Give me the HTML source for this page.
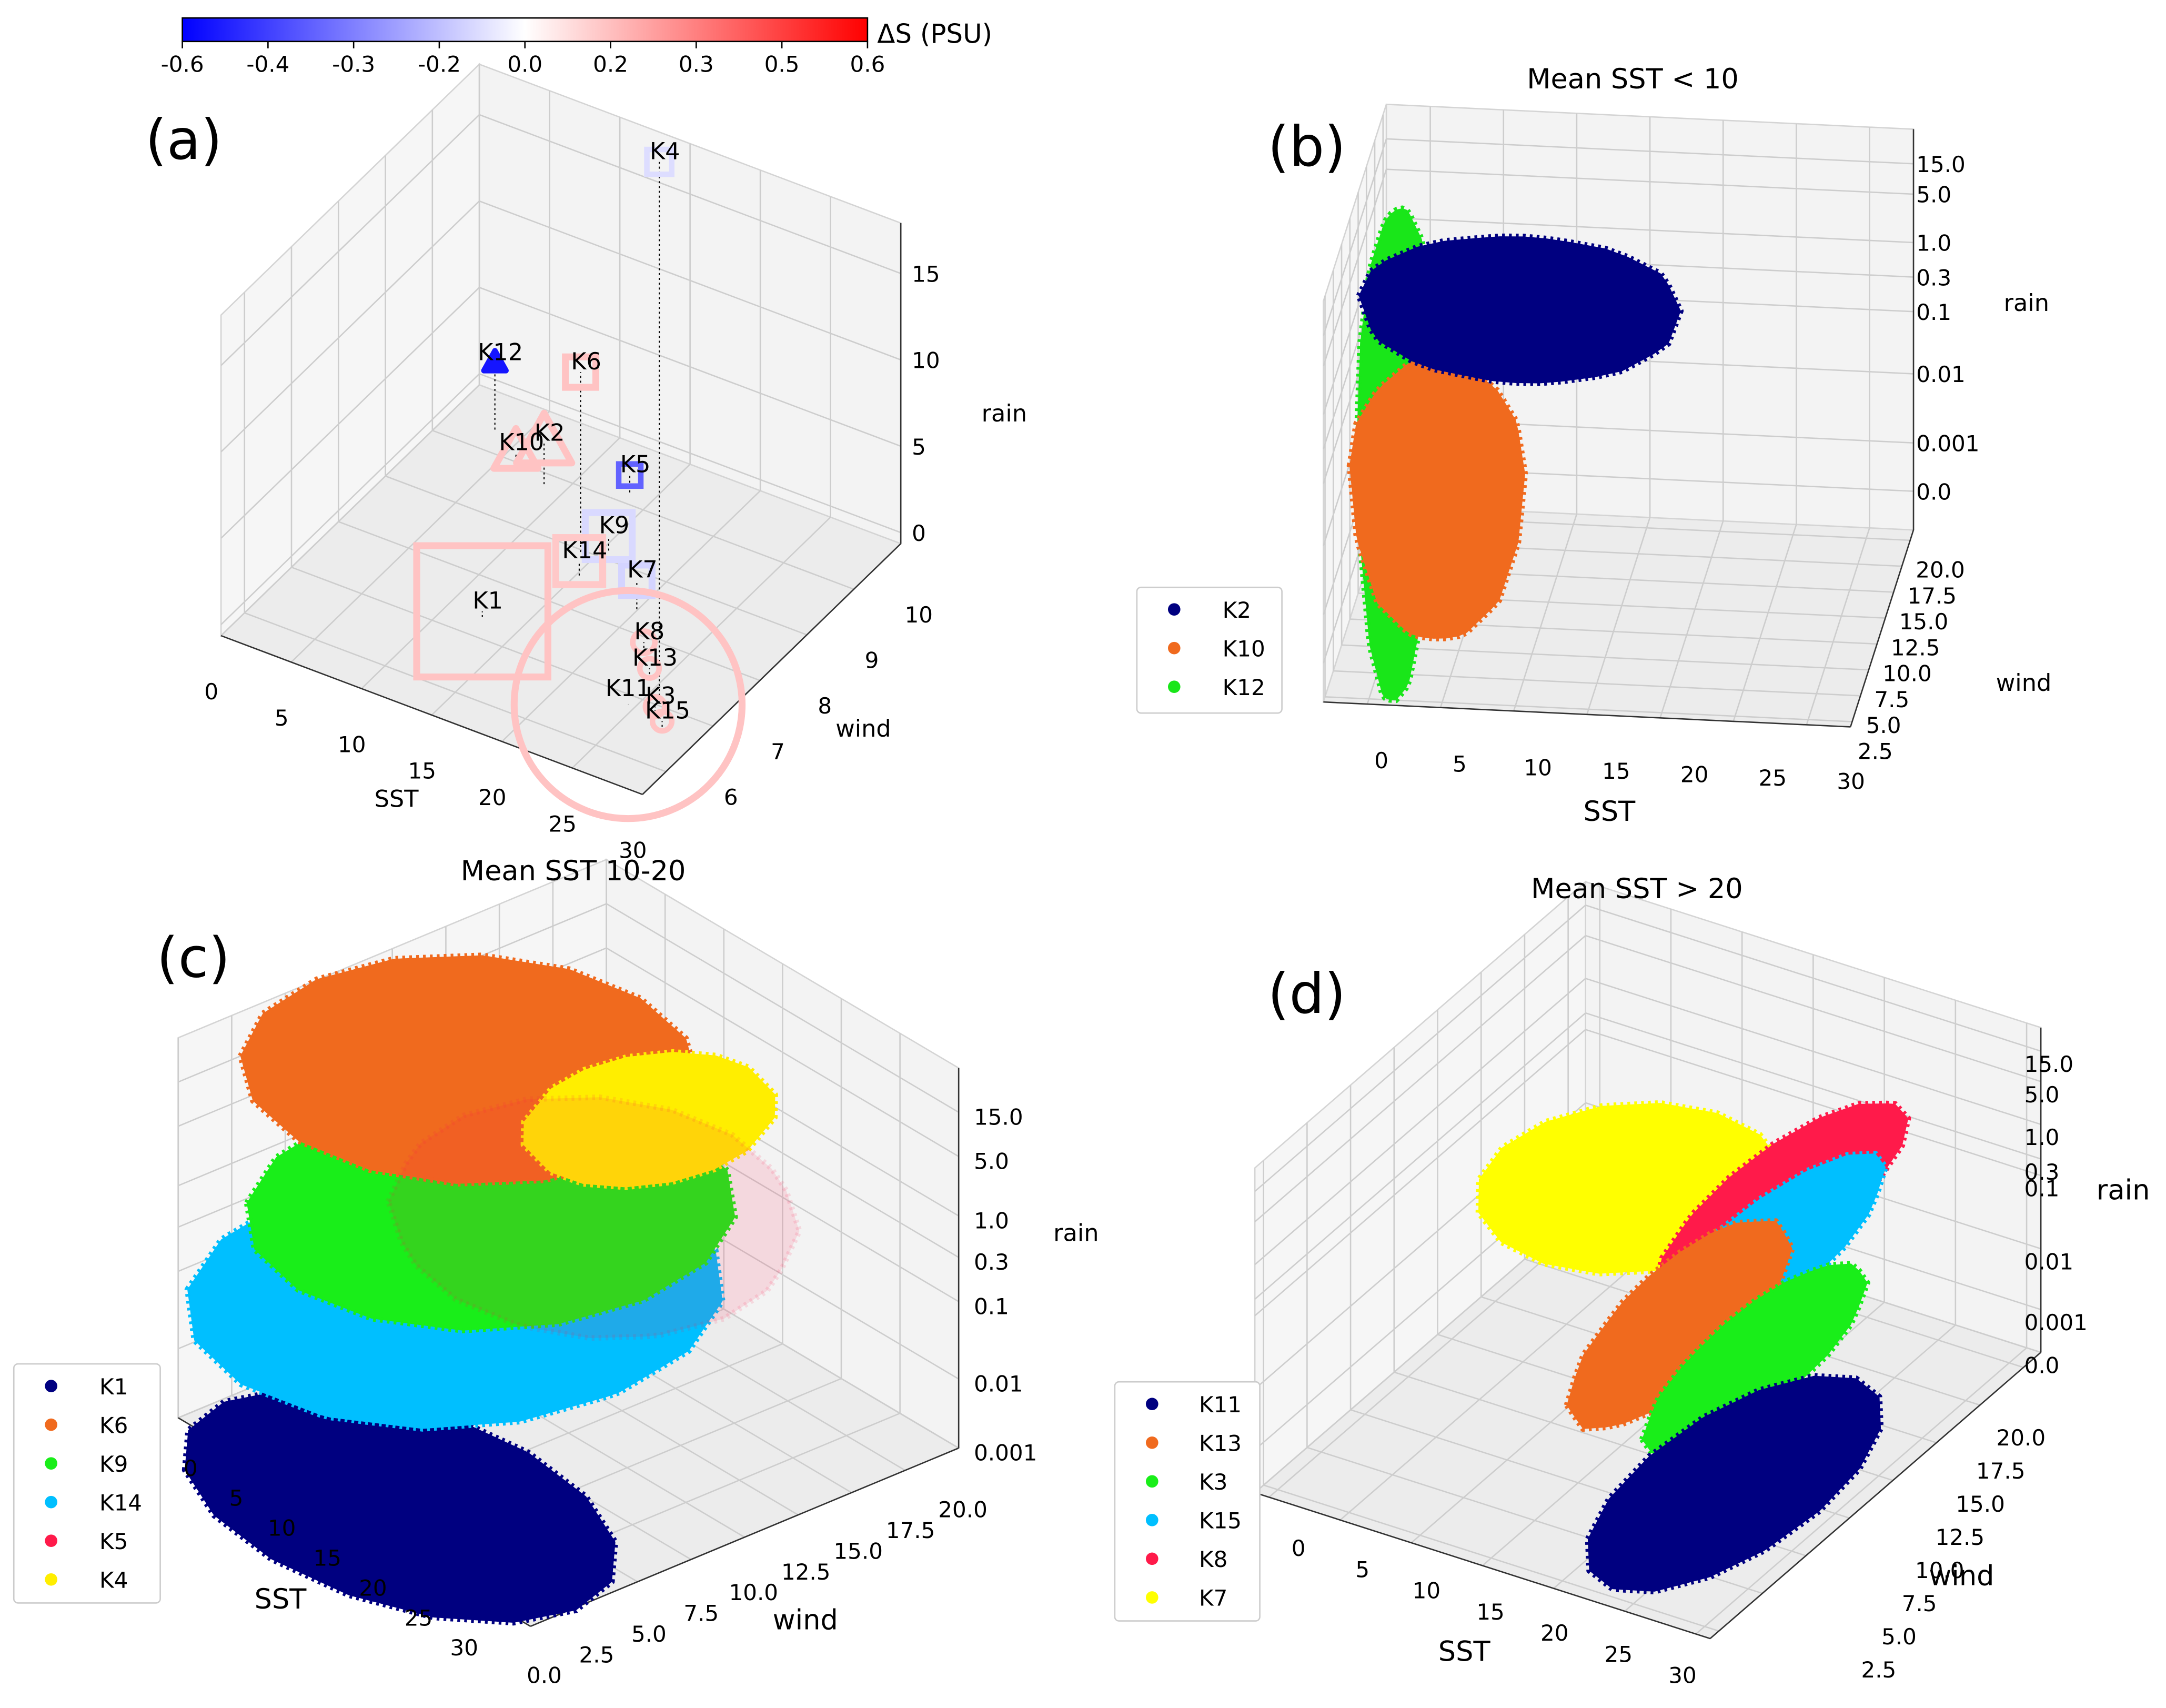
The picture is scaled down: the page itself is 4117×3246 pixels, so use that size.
<!DOCTYPE html>
<html><head><meta charset="utf-8"><style>
html,body{margin:0;padding:0;background:#fff;}
svg{display:block;font-family:"DejaVu Sans","Liberation Sans",sans-serif;}
</style></head><body>
<svg id="fig" width="4117" height="3246" viewBox="0 0 1568 1236" preserveAspectRatio="none" xmlns="http://www.w3.org/2000/svg">
<defs><linearGradient id="bwr" x1="0" x2="1" y1="0" y2="0"><stop offset="0" stop-color="#0000ff"/><stop offset="0.5" stop-color="#ffffff"/><stop offset="1" stop-color="#ff0000"/></linearGradient></defs>
<rect x="0" y="0" width="1568" height="1236" fill="#fff"/>
</svg>
<script>
// ---------- data ----------
const cbTickLabels = ['-0.6','-0.4','-0.3','-0.2','0.0','0.2','0.3','0.5','0.6'];
const aNames = ['K1','K2','K3','K4','K5','K6','K7','K8','K9','K10','K11','K12','K13','K14','K15'];
const aSst   = [12.9,9.5,26.7,26.1,14.4,14.8,20.6,22.9,16.2,6.9,24.9,4.2,24.5,15.9,27.8];
const aWind  = [7.4,10.0,6.9,7.2,10.4,9.1,8.5,7.9,9.3,10.2,6.86,10.6,7.5,8.7,6.7];
const aRain  = [0.2,1.4,0.2,18.4,0.6,6.2,1.0,0.2,0.5,0.3,0.0,2.3,0.2,0.5,0.2];
const aDS    = [0.14,0.14,0.14,-0.08,-0.37,0.14,-0.1,0.14,-0.09,0.14,0.14,-0.55,0.14,0.13,0.14];
const aMarker= ['s','^','o','s','s','s','s','o','s','^','o','^','o','s','o'];
const aSize  = [95,40,14,18,16,22,22,16,34,32,165,16,14,34,14];
const sstTicks = [0,5,10,15,20,25,30];
const aWindTicks = [6,7,8,9,10];
const aRainTicks = [0,5,10,15];
const windTicks = [2.5,5.0,7.5,10.0,12.5,15.0,17.5,20.0];
const cWindTicks = [0.0,2.5,5.0,7.5,10.0,12.5,15.0,17.5,20.0];
const bRainLabels = ['0.0','0.001','0.01','0.1','0.3','1.0','5.0','15.0'];
const cRainLabels = ['0.001','0.01','0.1','0.3','1.0','5.0','15.0'];
const dRainLabels = ['0.0','0.001','0.01','0.1','0.3','1.0','5.0','15.0'];
// panel b clusters
const bNames=['K12','K10','K2'];
const bSst=[0.6,4.1,8.6], bSstSp=[2.4,6,11];
const bWind=[8,5,10], bWindSp=[5,3,3];
const bRain=[3.5,2.8,5.75], bRainSp=[5.5,2.8,1.8];
const bColors=['#19e619','#f06a1e','#000080'];
const bLegend=['K2','K10','K12'], bLegendCol=['#000080','#f06a1e','#19e619'];
// panel c clusters
const cNames=['K1','K14','K9','K6','K4','K5'];
const cSst=[13.5,11.1,8.8,6.2,13.5,13.7], cSstSp=[15,14,13,13,6,12];
const cWind=[2.96,6.84,9.78,10.2,14.6,11.9], cWindSp=[6,10,9,8,5,7];
const cRain=[-0.3,1.9,2.8,5.2,4.5,3.0], cRainSp=[0.2,0.4,0.3,0.4,0.5,1.5];
const cColors=['#000080','#00bfff','#19ee19','#f06a1e','#ffee00','#ff1a4a'];
const cOpac=[1,1,1,1,1,0.12];
const cLegend=['K1','K6','K9','K14','K5','K4'], cLegendCol=['#000080','#f06a1e','#19ee19','#00bfff','#ff1a4a','#ffee00'];
// panel d clusters
const dNames=['K7','K8','K15','K13','K3','K11'];
const dSst=[11.7,21.5,21.2,17.1,21.9,22.3], dSstSp=[9,4,3.5,3,3,6];
const dWind=[13.2,13.9,13.0,11.6,12.0,10.5], dWindSp=[5,6.5,6.5,6,6,7];
const dRain=[4.0,4.6,3.0,2.0,1.7,-0.3], dRainSp=[0.5,0.6,0.6,0.8,0.6,0.4];
const dColors=['#ffff00','#ff1a4a','#00bfff','#f06a1e','#19ee19','#000080'];
const dLegend=['K11','K13','K3','K15','K8','K7'], dLegendCol=['#000080','#f06a1e','#19ee19','#00bfff','#ff1a4a','#ffff00'];

// ---------- helpers ----------
const NS='http://www.w3.org/2000/svg';
const svg=document.getElementById('fig');
function el(tag,attrs,parent){const e=document.createElementNS(NS,tag);for(const k in attrs)e.setAttribute(k,attrs[k]);(parent||svg).appendChild(e);return e;}
function txt(str,x,y,size,anchor,parent){const t=el('text',{x:x,y:y,'font-size':size,'text-anchor':anchor||'middle',fill:'#000'},parent);t.textContent=str;return t;}
function mkProj(O,Vs,Vw){return (s,w,h)=>[O[0]+s*Vs[0]+w*Vw[0],O[1]+s*Vs[1]+w*Vw[1]-h];}
function hAt(hs,x){const n=hs.length-1;if(x<=0)return hs[0]+x*(hs[1]-hs[0]);if(x>=n)return hs[n]+(x-n)*(hs[n]-hs[n-1]);const i=Math.floor(x);return hs[i]+(x-i)*(hs[i+1]-hs[i]);}
function lerp(a,b,t){return [a[0]+(b[0]-a[0])*t,a[1]+(b[1]-a[1])*t];}
function pts(a){return a.map(p=>p[0].toFixed(1)+','+p[1].toFixed(1)).join(' ');}
function hull(P){P=P.slice().sort((a,b)=>a[0]-b[0]||a[1]-b[1]);const cr=(o,a,b)=>(a[0]-o[0])*(b[1]-o[1])-(a[1]-o[1])*(b[0]-o[0]);const lo=[],up=[];for(const p of P){while(lo.length>=2&&cr(lo[lo.length-2],lo[lo.length-1],p)<=0)lo.pop();lo.push(p);}for(let i=P.length-1;i>=0;i--){const p=P[i];while(up.length>=2&&cr(up[up.length-2],up[up.length-1],p)<=0)up.pop();up.push(p);}up.pop();lo.pop();return lo.concat(up);}
function line(g,a,b,col,w){return el('line',{x1:a[0],y1:a[1],x2:b[0],y2:b[1],stroke:col,'stroke-width':w},g);}

function drawBox(g,P,s0,s1,w0,w1,H,sT,wT,hT){
  const floor=el('polygon',{points:pts([P(s0,w0,0),P(s1,w0,0),P(s1,w1,0),P(s0,w1,0)]),fill:'#ececec',stroke:'#d4d4d4','stroke-width':1},g);
  
  
  const back=el('polygon',{points:pts([P(s0,w1,0),P(s1,w1,0),P(s1,w1,H),P(s0,w1,H)]),fill:'#f3f3f3',stroke:'#d4d4d4','stroke-width':1},g);
  
  
  const left=el('polygon',{points:pts([P(s0,w0,0),P(s0,w1,0),P(s0,w1,H),P(s0,w0,H)]),fill:'#f6f6f6',stroke:'#d4d4d4','stroke-width':1},g);
  
  
  const gc='#cdcdcd';
  sT.forEach(s=>{line(g,P(s,w0,0),P(s,w1,0),gc,1);line(g,P(s,w1,0),P(s,w1,H),gc,1);});
  wT.forEach(w=>{line(g,P(s0,w,0),P(s1,w,0),gc,1);line(g,P(s0,w,0),P(s0,w,H),gc,1);});
  hT.forEach(h=>{line(g,P(s0,w1,h),P(s1,w1,h),gc,1);line(g,P(s0,w0,h),P(s0,w1,h),gc,1);});
  line(g,P(s0,w0,0),P(s1,w0,0),'#333',1);
  line(g,P(s1,w0,0),P(s1,w1,0),'#333',1);
  line(g,P(s1,w1,0),P(s1,w1,H),'#333',1);
}
function drawCloud(g,P,hs,s,ss,w,ws,r,rs,col,op,name){
  const sp=[];
  for(let i=0;i<16;i++){const th=i/16*2*Math.PI;for(let j=0;j<=8;j++){const ph=j/8*Math.PI;
    const S=s+ss*Math.sin(ph)*Math.cos(th),W=w+ws*Math.sin(ph)*Math.sin(th),R=r+rs*Math.cos(ph);
    sp.push(P(S,W,hAt(hs,R)));}}
  const poly=el('polygon',{points:pts(hull(sp)),fill:col,'fill-opacity':op,stroke:col,'stroke-opacity':op,'stroke-width':4,'stroke-dasharray':'2 3','stroke-linejoin':'round'},g);
  
  
}
function legend(x,y,w,h,labels,cols,step,tx,name){
  const g=el('g',{});
  
  
  el('rect',{x:x,y:y,width:w,height:h,rx:3,fill:'#fff',stroke:'#ccc','stroke-width':1},g);
  labels.forEach((lb,i)=>{
    const c=el('circle',{cx:x+27,cy:y+16+i*step,r:4.5,fill:cols[i]},g);
    
    
    const t=txt(lb,tx,y+22+i*step,16,'start',g);
    
    
  });
}
function dsColor(v){const t=Math.max(-1,Math.min(1,v/0.6));if(t<0){const k=Math.round(255*(1+t));return 'rgb('+k+','+k+',255)';}const k=Math.round(255*(1-t));return 'rgb(255,'+k+','+k+')';}

// ---------- colorbar ----------
const cb=el('g',{});


el('rect',{x:132,y:13,width:496,height:17,fill:'url(#bwr)',stroke:'#000','stroke-width':1},cb);
cbTickLabels.forEach((lb,i)=>{const x=132+i*496/(cbTickLabels.length-1);line(cb,[x,30],[x,35],'#000',1);
  const t=txt(lb,x,52,16,'middle',cb);
  
  });
const cbt=txt('ΔS (PSU)',635,31,19,'start',cb);



// ---------- panel a ----------
(function(){
  const g=el('g',{});
  
  
  const P=(s,w,h)=>[160+s*10.17+(w-5.5)*30.5,458+s*3.83-(w-5.5)*32-h];
  const PB=(s,w,h)=>[160+s*10.17+(w-5.5)*34,460+s*3.83-(w-5.5)*33-h];
  const rainH=v=>8+12.5*v;
  drawBox(g,PB,0,30,5.5,11,232,sstTicks,aWindTicks,aRainTicks.map(rainH));
  sstTicks.forEach(s=>{const p=PB(s,5.5,0);const t=txt(String(s),p[0]-7,p[1]+46,16,'middle',g);
    
    });
  aWindTicks.forEach(w=>{const p=PB(30,w,0);const t=txt(String(w),p[0]+47,p[1]+24,16,'middle',g);
    
    });
  aRainTicks.forEach(v=>{const p=PB(30,11,rainH(v));const t=txt(String(v),p[0]+8,p[1]+6,16,'start',g);
    
    });
  const rs=21;
  aNames.forEach((nm,i)=>{
    const base=P(aSst[i],aWind[i],0), top=P(aSst[i],aWind[i],aRain[i]*rs);
    const dl=line(g,base,top,'#000',0.8);dl.setAttribute('stroke-dasharray','1.5 2');
    
    
  });
  aNames.forEach((nm,i)=>{
    const p=P(aSst[i],aWind[i],aRain[i]*rs), s=aSize[i], col=dsColor(aDS[i]);
    const sw=s<20?4:5;let m;
    if(aMarker[i]==='s') m=el('rect',{x:p[0]-s/2,y:p[1]-s/2,width:s,height:s,fill:'none',stroke:col,'stroke-width':sw},g);
    else if(aMarker[i]==='^') m=el('polygon',{points:pts([[p[0],p[1]-s*0.55],[p[0]+s/2,p[1]+s*0.35],[p[0]-s/2,p[1]+s*0.35]]),fill:s<20?col:'none',stroke:col,'stroke-width':sw,'stroke-linejoin':'round'},g);
    else m=el('circle',{cx:p[0],cy:p[1],r:s/2,fill:'none',stroke:col,'stroke-width':sw},g);
    
    
  });
  aNames.forEach((nm,i)=>{
    const p=P(aSst[i],aWind[i],aRain[i]*rs);
    const t=txt(nm,p[0]+(aSize[i]>100?0:4),p[1]+(aSize[i]>100?-6:-2),17,'middle',g);
    
    
  });
  [['SST',287,584,'x-axis-title'],['wind',625,533,'y-axis-title'],['rain',727,305,'z-axis-title']].forEach(a=>{const t=txt(a[0],a[1],a[2],17,'middle',g);
    
    });
  const pl=txt('(a)',133,115,40,'middle',g);
  
  
})();

// ---------- panel b ----------
(function(){
  const g=el('g',{});
  
  
  const P=mkProj([985,524.5],[10.6,0.5],[2.4,-7.5]);
  const hs=[28,63,113,158,183,208,243,265];
  drawBox(g,P,-3,33,2,21,290,sstTicks,windTicks,hs);
  bNames.forEach((nm,i)=>drawCloud(g,P,hs,bSst[i],bSstSp[i],bWind[i],bWindSp[i],bRain[i],bRainSp[i],bColors[i],1,nm));
  sstTicks.forEach(s=>{const t=txt(String(s),1000+11.33*s,556+0.5*s,16,'middle',g);
    
    });
  windTicks.forEach(w=>{const p=P(33,w,0);const t=txt(w.toFixed(1),p[0]+4,p[1]+27,16,'start',g);
    
    });
  bRainLabels.forEach((lb,i)=>{const p=P(33,21,hs[i]);const t=txt(lb,p[0]+2,p[1]+6,16,'start',g);
    
    });
  [['SST',1165,594,20,'x-axis-title'],['wind',1465,500,17,'y-axis-title'],['rain',1467,225,17,'z-axis-title'],['Mean SST < 10',1182,64,20,'panel-title']].forEach(a=>{const t=txt(a[0],a[1],a[2],a[3],'middle',g);
    
    });
  const pl=txt('(b)',946,120,40,'middle',g);
  
  
  legend(823,425,105,91,bLegend,bLegendCol,28,885,'legend-b');
})();

// ---------- panel c ----------
(function(){
  const g=el('g',{});
  
  
  const P=mkProj([129,1026],[8.5,5.03],[15.5,-6.45]);
  const hs=[0,50,106,138,168,211,243];
  drawBox(g,P,0,30,0,20,275,sstTicks,cWindTicks,hs);
  cNames.forEach((nm,i)=>drawCloud(g,P,hs,cSst[i],cSstSp[i],cWind[i],cWindSp[i],cRain[i],cRainSp[i],cColors[i],cOpac[i],nm));
  sstTicks.forEach(s=>{const p=lerp([138,1068],[336,1198],s/30);const t=txt(String(s),p[0],p[1],16,'middle',g);
    
    });
  cWindTicks.forEach(w=>{const p=lerp([394,1218],[697,1098],w/20);const t=txt(w.toFixed(1),p[0],p[1],16,'middle',g);
    
    });
  cRainLabels.forEach((lb,i)=>{const p=P(30,20,hs[i]);const t=txt(lb,p[0]+11,p[1]+9,16,'start',g);
    
    });
  [['SST',203,1164,20,'x-axis-title'],['wind',583,1179,20,'y-axis-title'],['rain',779,898,17,'z-axis-title'],['Mean SST 10-20',415,637,20,'panel-title']].forEach(a=>{const t=txt(a[0],a[1],a[2],a[3],'middle',g);
    
    });
  const pl=txt('(c)',140,707,40,'middle',g);
  
  
  legend(10,987,106,173,cLegend,cLegendCol,28,72,'legend-c');
})();

// ---------- panel d ----------
(function(){
  const g=el('g',{});
  
  
  const P=(s,w,h)=>[925+s*10.3+(w-2.5)*12.6,1078+s*3.3-(w-2.5)*10.9-h];
  const hs=[0,31,75,128,140,165,196,218];
  drawBox(g,P,-1,31,2,21,235,sstTicks,windTicks,hs);
  dNames.forEach((nm,i)=>drawCloud(g,P,hs,dSst[i],dSstSp[i],dWind[i],dWindSp[i],dRain[i],dRainSp[i],dColors[i],1,nm));
  sstTicks.forEach(s=>{const p=lerp([940,1126],[1218,1218],s/30);const t=txt(String(s),p[0],p[1],16,'middle',g);
    
    });
  windTicks.forEach(w=>{const p=lerp([1360,1214],[1463,1046],(w-2.5)/17.5);const t=txt(w.toFixed(1),p[0],p[1],16,'middle',g);
    
    });
  dRainLabels.forEach((lb,i)=>{const p=P(31,21,hs[i]);const t=txt(lb,p[0]-12,p[1]+15,16,'start',g);
    
    });
  [['SST',1060,1202,20,'x-axis-title'],['wind',1420,1147,20,'y-axis-title'],['rain',1537,868,20,'z-axis-title'],['Mean SST > 20',1185,650,20,'panel-title']].forEach(a=>{const t=txt(a[0],a[1],a[2],a[3],'middle',g);
    
    });
  const pl=txt('(d)',946,733,40,'middle',g);
  
  
  legend(807,1000,105,173,dLegend,dLegendCol,28,868,'legend-d');
})();
</script>
</body></html>
